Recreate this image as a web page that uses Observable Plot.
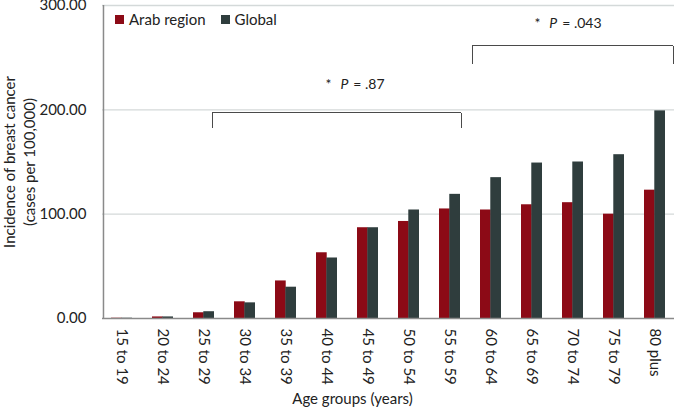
<!DOCTYPE html>
<html>
<head>
<meta charset="utf-8">
<script src="https://cdn.jsdelivr.net/npm/d3@7"></script>
<script src="https://cdn.jsdelivr.net/npm/@observablehq/plot@0.6"></script>
<style>
  html, body { margin: 0; padding: 0; background: #fff; }
  #wrap { position: relative; width: 674px; height: 411px; font-family: Lato, "Open Sans", sans-serif; }
  #legend { position: absolute; left: 115px; top: 10px; font-size: 15px; color: #222; display: flex; align-items: center; }
  #legend span.sw { display: inline-block; width: 9px; height: 9px; margin-right: 5px; }
  #legend .item { display: flex; align-items: center; margin-right: 15px; }
</style>
</head>
<body>
<div id="wrap">
  <div id="chart"></div>
  <div id="legend"></div>
</div>
<script>
const ageGroups = ["15 to 19","20 to 24","25 to 29","30 to 34","35 to 39","40 to 44","45 to 49","50 to 54","55 to 59","60 to 64","65 to 69","70 to 74","75 to 79","80 plus"];
const arabRegion = [0.3, 1.5, 5.5, 16, 36, 63, 87, 93, 105, 104, 109, 111, 100, 123];
const globalRate = [0.3, 1.5, 6.5, 15, 30, 58, 87, 104, 119, 135, 149, 150, 157, 199];
const seriesNames = ["Arab region", "Global"];
const seriesColors = ["#8c0a16", "#2f3d3d"];
const yTicks = [0, 100, 200, 300];

// significance brackets
const bracketStart = ["25 to 29", "60 to 64"];
const bracketEnd = ["55 to 59", "80 plus"];
const bracketFoot = [183, 244];
const bracketTop = [197, 261.5];
const pValues = [".87", ".043"];
const pLabelGroup = ["45 to 49", "70 to 74"];
const pLabelValue = [224, 283];

const rows = ageGroups.map((g, i) => ({group: g, arab: arabRegion[i], global: globalRate[i]}));

const W = 674, H = 411, ML = 102, MR = 0, MT = 5, MB = 93;
const padIn = 0.5, padOut = 0.2;
const step = (W - ML - MR) / (ageGroups.length - padIn + 2 * padOut);
const half = step * (1 - padIn) / 2;

const leftHalves = bracketStart.map((s, i) => [
  {g: s, v: bracketFoot[i]}, {g: s, v: bracketTop[i]}, {g: bracketEnd[i], v: bracketTop[i]}
]);
const rightHalves = bracketStart.map((s, i) => [
  {g: s, v: bracketTop[i]}, {g: bracketEnd[i], v: bracketTop[i]}, {g: bracketEnd[i], v: bracketFoot[i]}
]);
const leftDx = [8, -19];
const rightDx = [11, 18];

const bracketMarks = [];
for (let i = 0; i < bracketStart.length; i++) {
  bracketMarks.push(Plot.line(leftHalves[i], {x: "g", y: "v", stroke: "#4a4a4a", strokeWidth: 1, dx: leftDx[i], shapeRendering: "crispEdges"}));
  bracketMarks.push(Plot.line(rightHalves[i], {x: "g", y: "v", stroke: "#4a4a4a", strokeWidth: 1, dx: rightDx[i], shapeRendering: "crispEdges"}));
}
const labelDx = [-13, -5];
const labelMarks = pValues.map((t, i) => Plot.text([t], {
  x: () => pLabelGroup[i], y: () => pLabelValue[i], text: d => "* P = " + d,
  fontSize: 14, fill: "#222", dx: labelDx[i], className: "plabel"
}));

const chart = Plot.plot({
  width: W, height: H,
  marginLeft: ML, marginRight: MR, marginTop: MT, marginBottom: MB,
  style: {fontFamily: "Lato, 'Open Sans', sans-serif", fontSize: "15px", color: "#222", background: "#fff"},
  x: {domain: ageGroups, paddingInner: padIn, paddingOuter: padOut, label: null},
  y: {domain: [0, 300], label: null},
  marks: [
    Plot.gridY(yTicks.slice(1), {stroke: "#d4d9d9", strokeOpacity: 1, strokeWidth: 1.3}),
    Plot.axisY({ticks: yTicks, tickFormat: d3.format(".2f"), tickSize: 0, tickPadding: 16, fontSize: 15}),
    Plot.axisX({tickSize: 0, tickPadding: 10, tickRotate: 90, fontSize: 15}),
    Plot.barY(rows, {x: "group", y: "arab", fill: seriesColors[0], insetRight: half}),
    Plot.barY(rows, {x: "group", y: "global", fill: seriesColors[1], insetLeft: half}),
    Plot.ruleX([0], {x: () => ageGroups[0], y1: 0, y2: 300, stroke: "#8a8a8a", strokeWidth: 1.5, dx: -(step * padOut + half)}),
    Plot.ruleY([0], {stroke: "#8a8a8a", strokeWidth: 1.5}),
    ...bracketMarks,
    ...labelMarks,
    Plot.text(["Age groups (years)"], {frameAnchor: "bottom", text: d => d, dy: 81, dx: -36, lineAnchor: "middle", fontSize: 15, fill: "#222"}),
    Plot.text(["Incidence of breast cancer"], {frameAnchor: "left", text: d => d, rotate: -90, dx: -92, textAnchor: "middle", lineAnchor: "middle", fontSize: 15, fill: "#222"}),
    Plot.text(["(cases per 100,000)"], {frameAnchor: "left", text: d => d, rotate: -90, dx: -72, textAnchor: "middle", lineAnchor: "middle", fontSize: 15, fill: "#222"})
  ]
});

// italic P and wider spacing in the significance labels
const NS = "http://www.w3.org/2000/svg";
chart.querySelectorAll("g.plabel text").forEach(t => {
  const s = t.textContent;
  const rest = s.split("P")[1];
  t.textContent = "";
  const a = document.createElementNS(NS, "tspan"); a.textContent = "*";
  const b = document.createElementNS(NS, "tspan"); b.textContent = "P"; b.setAttribute("font-style", "italic"); b.setAttribute("dx", "9");
  const c = document.createElementNS(NS, "tspan"); c.textContent = rest.replace(/^ /, ""); c.setAttribute("dx", "5");
  t.append(a, b, c);
});

document.getElementById("chart").appendChild(chart);

const legend = document.getElementById("legend");
seriesNames.forEach((n, i) => {
  const it = document.createElement("div"); it.className = "item";
  const sw = document.createElement("span"); sw.className = "sw"; sw.style.background = seriesColors[i];
  const tx = document.createElement("span"); tx.textContent = n;
  it.append(sw, tx); legend.appendChild(it);
});
</script>
</body>
</html>
